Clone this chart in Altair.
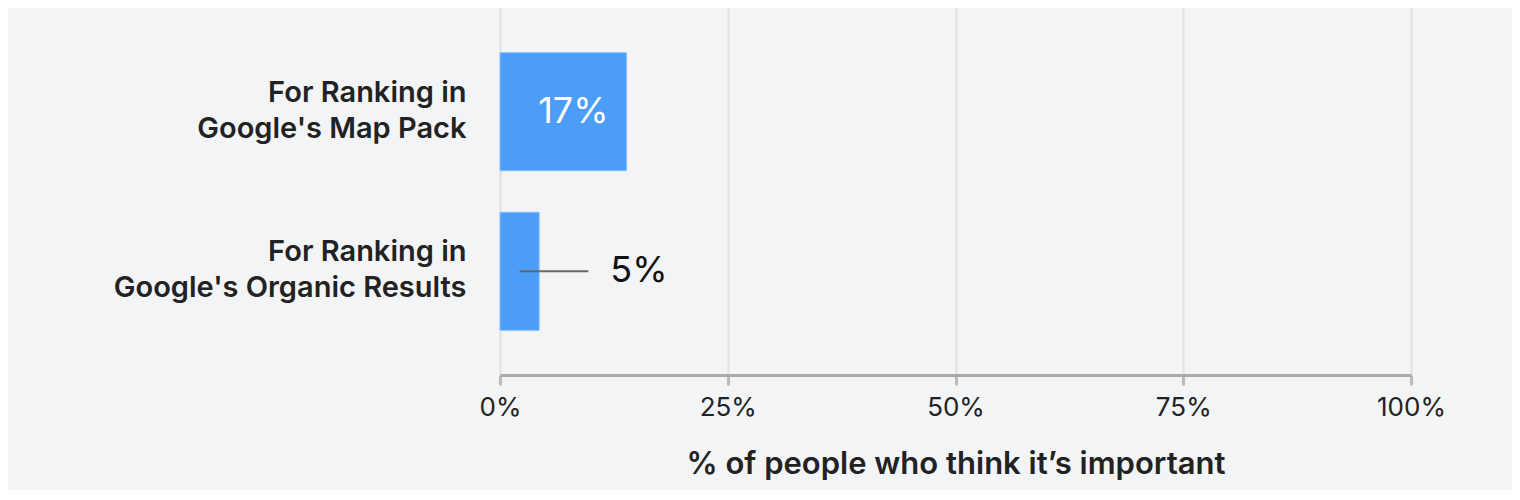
import altair as alt
import pandas as pd

categories = ["For Ranking in|Google's Map Pack", "For Ranking in|Google's Organic Results"]
bar_values = [13.9, 4.3]
label_texts = ["17%", "5%"]
label_inside = [True, False]
leader_length = [0.0, 5.4]
x_ticks = [0, 25, 50, 75, 100]

df = pd.DataFrame({
    "cat": categories,
    "value": bar_values,
    "label": label_texts,
    "inside": label_inside,
    "lead": leader_length,
})
df["mid"] = df["value"] / 2
df["lead_end"] = df["value"] + df["lead"]

FONT = "Inter"

x_scale = alt.Scale(domain=[0, 100], nice=False)
y_scale = alt.Scale(paddingInner=0.26, paddingOuter=0.28)

x_enc = alt.X(
    "value:Q",
    scale=x_scale,
    axis=alt.Axis(
        values=x_ticks,
        labelExpr="datum.value + '%'",
        labelFlush=False,
        title="% of people who think it’s important",
        titleFontSize=31,
        titleFontWeight=600,
        titleColor="#222",
        titlePadding=29,
        labelFontSize=26,
        labelColor="#222",
        labelPadding=9,
        domainColor="#aaaaaa",
        domainWidth=3,
        tickColor="#bbbbbb",
        tickWidth=3,
        tickSize=10,
        gridColor="#e0e0e0",
        gridWidth=2,
        labelFont=FONT,
        titleFont=FONT,
    ),
)
y_enc = alt.Y(
    "cat:N",
    scale=y_scale,
    sort=categories,
    axis=alt.Axis(
        title=None,
        domain=False,
        ticks=False,
        grid=False,
        labelExpr="split(datum.label, '|')",
        labelFontSize=29,
        labelFontWeight=600,
        labelColor="#222",
        labelPadding=34,
        labelLineHeight=36,
        labelOffset=-19,
        labelLimit=0,
        labelFont=FONT,
        minExtent=492,
        maxExtent=492,
    ),
)

base = alt.Chart(df)

bars = base.mark_bar(color="#4b9df7", stroke="#8fc0f8", strokeWidth=1).encode(x=x_enc, y=y_enc)

inside_text = base.transform_filter("datum.inside").mark_text(
    color="white", fontSize=36, font=FONT, align="center", baseline="middle", dx=10
).encode(x=alt.X("mid:Q", scale=x_scale), y=alt.Y("cat:N", sort=categories), text="label:N")

leader = base.transform_filter("!datum.inside").mark_rule(color="#666666", strokeWidth=2).encode(
    x=alt.X("mid:Q", scale=x_scale), x2="lead_end:Q", y=alt.Y("cat:N", sort=categories)
)

outside_text = base.transform_filter("!datum.inside").mark_text(
    color="#111111", fontSize=36, font=FONT, align="left", baseline="middle", dx=22
).encode(x=alt.X("lead_end:Q", scale=x_scale), y=alt.Y("cat:N", sort=categories), text="label:N")

chart = alt.layer(bars, inside_text, leader, outside_text).properties(
    width=911,
    height=367,
    background="#f3f4f6",
    padding={"left": 0, "top": 0, "right": 66, "bottom": 11},
).configure_view(stroke=None)

chart.save("out.html", embed_options={"renderer": "svg", "actions": False})
